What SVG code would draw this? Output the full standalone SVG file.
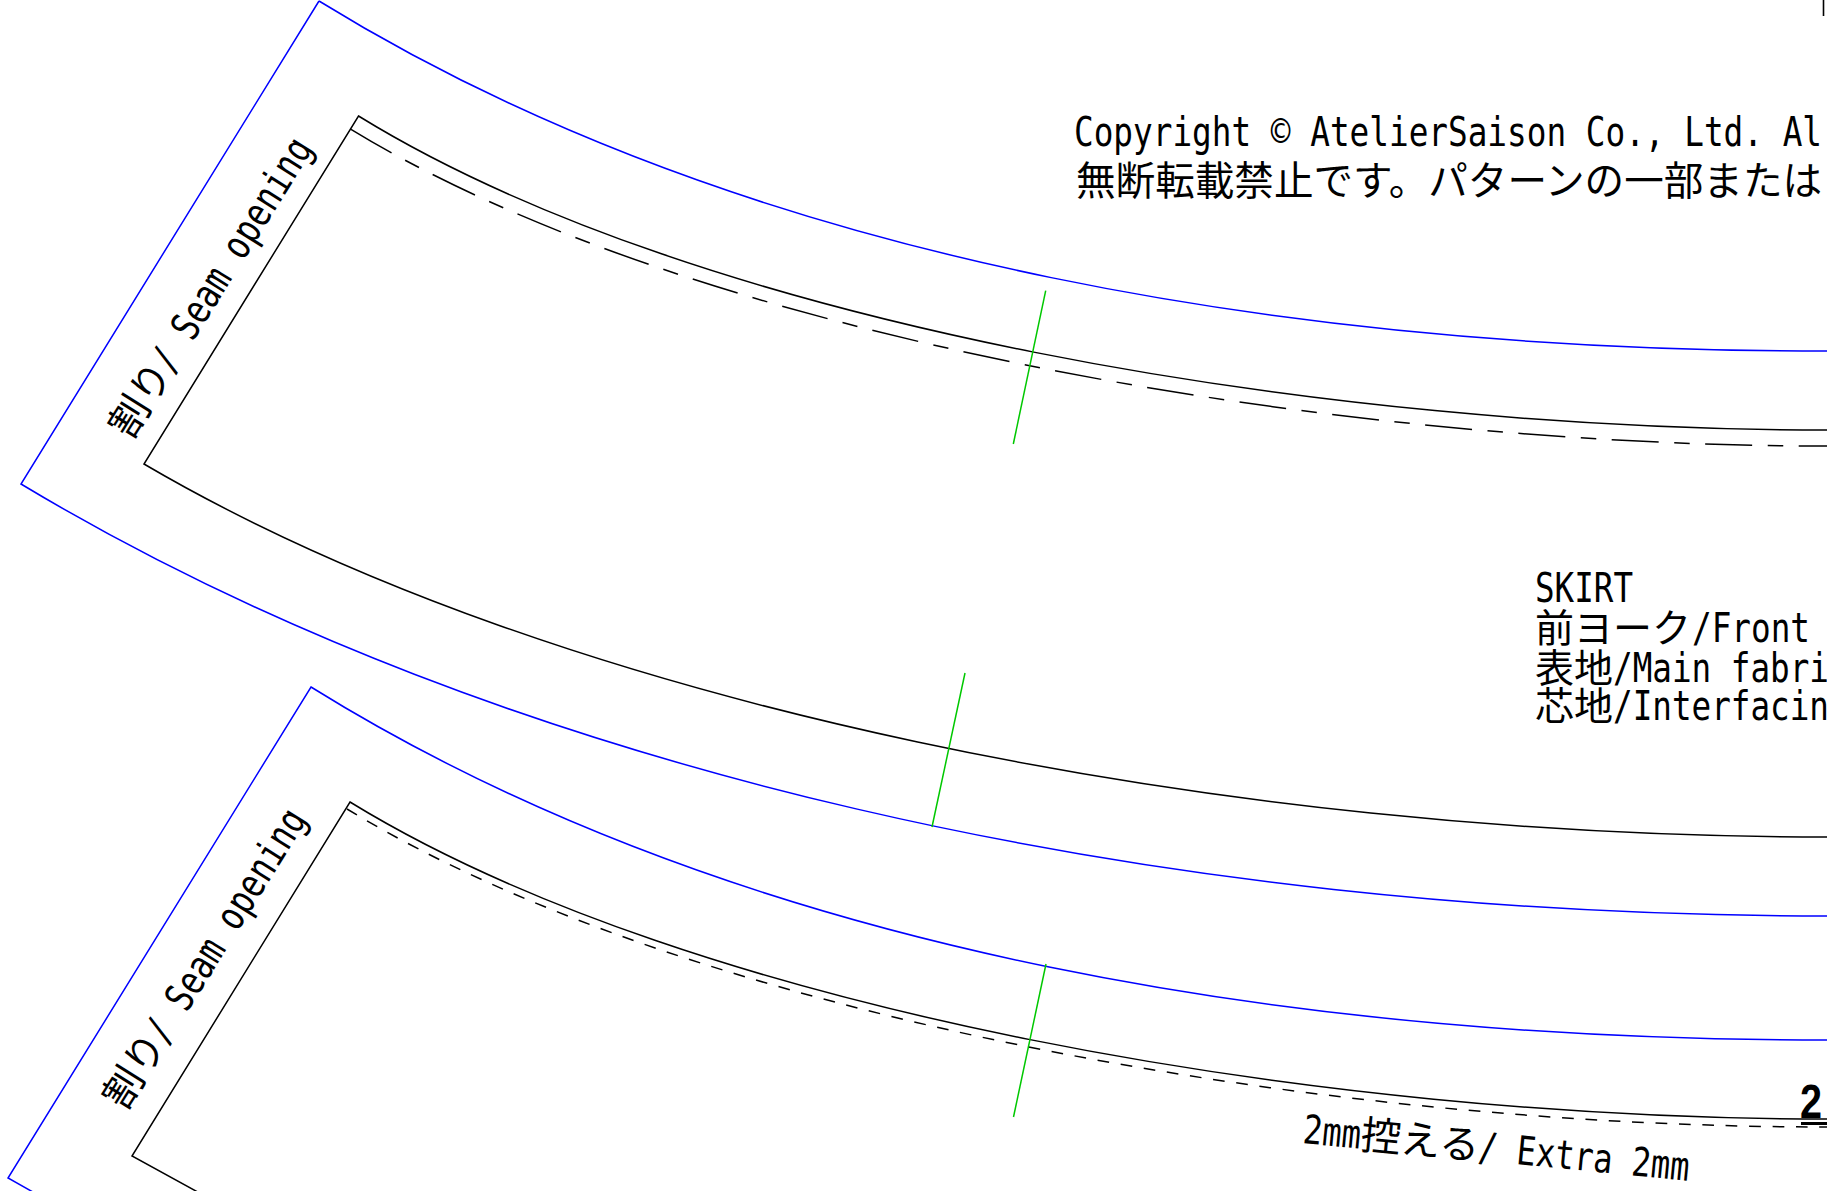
<svg xmlns="http://www.w3.org/2000/svg" width="1827" height="1191" viewBox="0 0 1827 1191">
<style>
path,line{fill:none;stroke-width:1.5}
.k{stroke:#000}.b{stroke:#0000ff}.g{stroke:#00c800}
.d1{stroke:#000;stroke-dasharray:47 15.5 15.5 15.5}
.d2{stroke:#000;stroke-dasharray:11.7 11.7}
text{fill:#000}
.m{font-family:"DejaVu Sans Mono","Liberation Mono",monospace;font-size:41px}
.j{font-family:"Noto Sans CJK JP",sans-serif;font-size:39px}
.r{font-family:"DejaVu Sans Mono","Liberation Mono",monospace;font-size:40px}
.s{font-family:"Noto Sans CJK JP",sans-serif;font-size:40px}
</style>
<rect width="1827" height="1191" fill="#fff"/>
<g id="connectors">
<g id="upper-piece">
<path class="b" d="M319 1C758 272 1330 351 1827 351"/>
<path class="b" d="M319 1L21 484C505 775 1165 916 1827 916"/>
<path class="k" d="M1827 430C1327 430 701 327 358.500 116L144 464C560 708 1230 837 1827 837"/>
<path class="d1" d="M351 129.300C691 337 1327 446 1827 446"/>
</g>
<g id="lower-piece">
<path class="b" d="M1827 1040C1330 1040 755 963 311 687L8 1178L40 1196"/>
<path class="k" d="M1827 1119C1327 1119 694 1013 350 802L132 1156L205 1196"/>
<path class="d2" d="M347 809C694 1020 1327 1127 1827 1127"/>
</g>
<g id="notches">
<line class="g" x1="1045.700" y1="290.700" x2="1013.300" y2="444"/>
<line class="g" x1="965" y1="673" x2="932" y2="827"/>
<line class="g" x1="1046" y1="964" x2="1013.500" y2="1117"/>
</g>
<line class="k" x1="1823.500" y1="0" x2="1823.500" y2="16" style="stroke-width:1.6"/>
</g>
<g id="copyright">
<text class="m" x="1074" y="146" textLength="748" lengthAdjust="spacingAndGlyphs">Copyright © AtelierSaison Co., Ltd. Al</text>
<text class="j" x="1076" y="195" style="font-size:39.600px">無断転載禁止です。パターンの一部または</text>
</g>
<g id="title">
<text class="m" x="1535" y="602" textLength="98" lengthAdjust="spacingAndGlyphs">SKIRT</text>
<text class="j" x="1535" y="642">前ヨーク</text>
<text class="m" x="1692" y="642" textLength="118" lengthAdjust="spacingAndGlyphs">/Front</text>
<text class="j" x="1535" y="682">表地</text>
<text class="m" x="1613" y="682" textLength="216" lengthAdjust="spacingAndGlyphs">/Main fabri</text>
<text class="j" x="1535" y="720">芯地</text>
<text class="m" x="1613" y="720" textLength="216" lengthAdjust="spacingAndGlyphs">/Interfacin</text>
</g>
<g id="label-seam-upper" transform="translate(131 441) rotate(-58)">
<text class="s" x="0" y="0">割り</text>
<text class="r" x="78" y="0" textLength="267" lengthAdjust="spacingAndGlyphs">/ Seam opening</text>
</g>
<g id="label-seam-lower" transform="translate(125 1112) rotate(-58)">
<text class="s" x="0" y="0">割り</text>
<text class="r" x="78" y="0" textLength="267" lengthAdjust="spacingAndGlyphs">/ Seam opening</text>
</g>
<g id="label-extra" transform="translate(1302 1143) rotate(5.600)">
<text class="r" x="0" y="0" textLength="58" lengthAdjust="spacingAndGlyphs">2mm</text>
<text class="s" x="58" y="0">控える</text>
<text class="r" x="176" y="0" textLength="212" lengthAdjust="spacingAndGlyphs">/ Extra 2mm</text>
</g>
<g id="page-number">
<text x="1800" y="1118" textLength="22" lengthAdjust="spacingAndGlyphs" style="font-family:'Liberation Sans',sans-serif;font-weight:bold;font-size:48px">2</text>
<rect x="1801" y="1122" width="26" height="3"/>
</g>
</svg>
